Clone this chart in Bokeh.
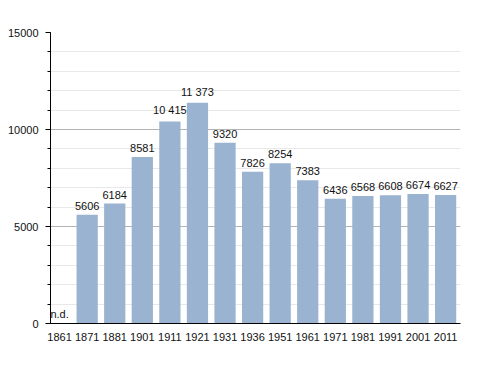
from bokeh.plotting import figure
from bokeh.models import ColumnDataSource, Range1d, FixedTicker, LabelSet
from bokeh.embed import file_html
from bokeh.resources import INLINE
from bokeh.core.properties import value

years = ["1861", "1871", "1881", "1901", "1911", "1921", "1931", "1936",
         "1951", "1961", "1971", "1981", "1991", "2001", "2011"]
population = [None, 5606, 6184, 8581, 10415, 11373, 9320, 7826,
              8254, 7383, 6436, 6568, 6608, 6674, 6627]
y_ticks = [0, 5000, 10000, 15000]


def fmt(v):
    if v is None:
        return ""
    return f"{v:,}".replace(",", " ") if v >= 10000 else str(v)


xs = list(range(len(years)))
tops = [v if v is not None else 0 for v in population]
labels = [fmt(v) for v in population]
src = ColumnDataSource(dict(x=xs, top=tops, label=labels))

FONT = "Liberation Sans"

p = figure(width=470, height=365, output_backend="svg", toolbar_location=None,
           x_range=Range1d(-0.33, 14.54), y_range=Range1d(0, 15000),
           min_border_left=50, min_border_right=10, min_border_top=32,
           min_border_bottom=42)
p.outline_line_color = None
p.background_fill_color = "white"

p.vbar(x="x", top="top", width=0.77, source=src, fill_color="#9ab3d0",
       line_color=None)

lbl = LabelSet(x="x", y="top", text="label", source=src, text_align="center",
               text_baseline="bottom", y_offset=5, text_font=value(FONT),
               text_font_size="11px", text_color="#111111")
p.add_layout(lbl)

nd_src = ColumnDataSource(dict(x=[xs[i] for i, v in enumerate(population) if v is None],
                               y=[0 for v in population if v is None],
                               t=["n.d." for v in population if v is None]))
p.text(x="x", y="y", text="t", source=nd_src, text_align="center",
       text_baseline="bottom", y_offset=-4, text_font=value(FONT),
       text_font_size="11px", text_color="#111111")

# y axis
p.yaxis.ticker = FixedTicker(ticks=y_ticks, minor_ticks=list(range(0, 15001, 1000)))
p.yaxis.axis_line_color = "black"
p.yaxis.major_tick_line_color = "black"
p.yaxis.minor_tick_line_color = "black"
p.yaxis.major_tick_out = 5
p.yaxis.major_tick_in = 0
p.yaxis.minor_tick_out = 3
p.yaxis.minor_tick_in = 0
p.yaxis.major_label_text_font = FONT
p.yaxis.major_label_text_font_size = "11px"
p.yaxis.major_label_text_color = "#111111"
p.yaxis.major_label_standoff = 7

# x axis
p.xaxis.ticker = FixedTicker(ticks=xs)
p.xaxis.major_label_overrides = {i: y for i, y in enumerate(years)}
p.xaxis.axis_line_color = "black"
p.xaxis.major_tick_line_color = None
p.xaxis.minor_tick_line_color = None
p.xaxis.major_label_text_font = FONT
p.xaxis.major_label_text_font_size = "11px"
p.xaxis.major_label_text_color = "#111111"
p.xaxis.major_label_standoff = 3

# grids
p.xgrid.grid_line_color = None
p.ygrid.grid_line_color = "#b4b4b4"
p.ygrid.minor_grid_line_color = "#e8e8e8"
p.ygrid.level = "underlay"

open("out.html", "w").write(file_html(p, INLINE))
